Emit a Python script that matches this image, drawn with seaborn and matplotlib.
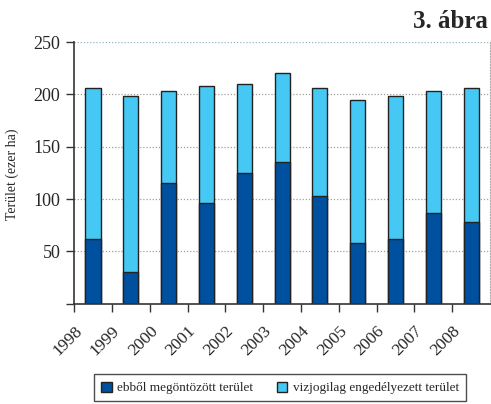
import matplotlib
matplotlib.use("Agg")
import matplotlib.pyplot as plt
import seaborn as sns
import pandas as pd
from matplotlib.patches import Patch

years = ["1998", "1999", "2000", "2001", "2002", "2003", "2004", "2005", "2006", "2007", "2008"]
total = [206, 198, 203, 208, 210, 220, 206, 195, 198, 203, 206]
irrigated = [62, 30, 115, 96, 125, 135, 103, 58, 62, 87, 78]
yticks = [50, 100, 150, 200, 250]

df = pd.DataFrame({"year": years, "total": total, "irrigated": irrigated})

sns.set_style("white")
plt.rcParams['font.family'] = ['Liberation Serif', 'DejaVu Serif']

light = "#45c8f3"
dark = "#0050a0"

fig = plt.figure(figsize=(4.91, 4.04), dpi=100)
ax = fig.add_axes([0.151, 0.248, 0.847, 0.648])

sns.barplot(data=df, x="year", y="total", color=light, width=0.4,
            edgecolor="#222222", linewidth=1.0, saturation=1, ax=ax)
sns.barplot(data=df, x="year", y="irrigated", color=dark, width=0.4,
            edgecolor="#222222", linewidth=1.0, saturation=1, ax=ax)

ax.set_xlim(-0.5, len(years) - 0.5)
ax.set_ylim(0, 250)
ax.set_yticks([0] + yticks)
ax.set_yticklabels([""] + [str(v) for v in yticks], fontsize=13)
ax.set_xticks([i - 0.5 for i in range(len(years))])
ax.set_xticklabels(years, rotation=45, ha="right", rotation_mode="anchor", fontsize=12.5)
ax.tick_params(axis="both", direction="out", length=6, width=1, color="#333333", pad=4)
ax.tick_params(axis="x", pad=8)
ax.tick_params(left=True, bottom=True)
ax.set_xlabel("")
ax.set_ylabel("Terület (ezer ha)", fontsize=10)
ax.yaxis.set_label_coords(-0.132, 0.495)

for y in yticks:
    c = "#8fb3c4" if y == 250 else "#a0a0a0"
    ax.axhline(y, color=c, linestyle=(0, (1, 1.5)), linewidth=0.9, zorder=0)
ax.set_axisbelow(True)
for s in ["left", "bottom"]:
    ax.spines[s].set_color("#333333")
    ax.spines[s].set_linewidth(1.2)
ax.spines["top"].set_visible(False)
ax.spines["right"].set_color("#aaaaaa")
ax.spines["right"].set_linestyle((0, (1, 1.5)))
ax.spines["right"].set_linewidth(0.8)

fig.text(0.993, 0.975, "3. ábra", ha="right", va="top", fontsize=18, fontweight="bold")

handles = [Patch(facecolor=dark, edgecolor="#222222", label="ebből megöntözött terület"),
           Patch(facecolor=light, edgecolor="#222222", label="vizjogilag engedélyezett terület")]
leg = fig.legend(handles=handles, loc="center", bbox_to_anchor=(0.57, 0.04), ncol=2,
                 fontsize=9.5, frameon=True, fancybox=False, handlelength=0.8,
                 handleheight=0.8, handletextpad=0.4, columnspacing=1.8,
                 borderpad=0.55)
leg.get_frame().set_edgecolor("#222222")
leg.get_frame().set_linewidth(1.0)

fig.savefig("out.png", dpi=100)
